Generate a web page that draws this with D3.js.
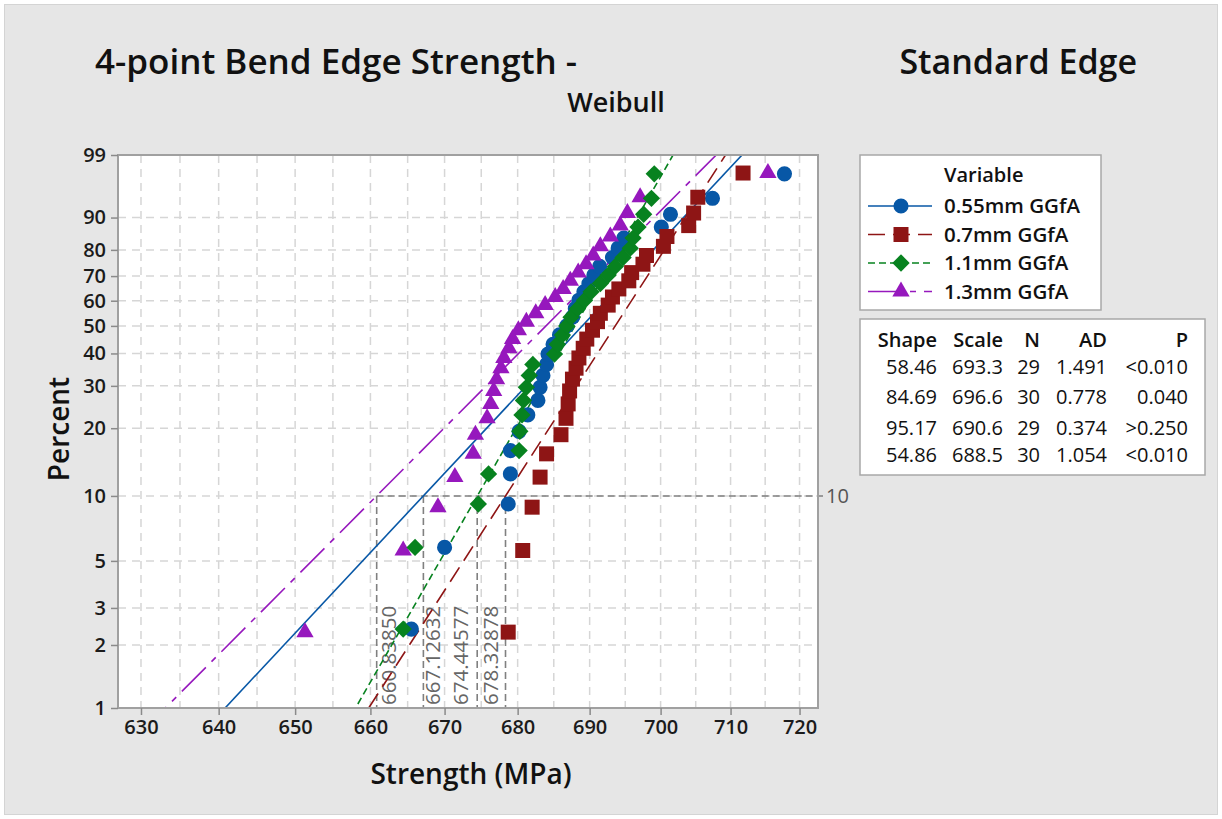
<!DOCTYPE html>
<html>
<head>
<meta charset="UTF-8">
<script src="https://d3js.org/d3.v7.min.js"></script>
<style>
  body { margin: 0; background: #fff; }
  svg text { font-family: "Open Sans", "Noto Sans", sans-serif; }
</style>
</head>
<body>
<div id="chart"></div>
<script>
// ---- data ----
const seriesNames = ['0.55mm GGfA', '0.7mm GGfA', '1.1mm GGfA', '1.3mm GGfA']
const seriesColors = ['#0757a6', '#8e1515', '#07821f', '#9618bd']

// sorted strength values (MPa), one array per series
const strength055 = [665.5, 670.0, 678.7, 679.0, 679.0, 680.2, 681.4, 682.8, 683.1, 683.5,
  684.0, 684.2, 684.9, 685.8, 686.8, 687.6, 688.0, 688.5, 689.2, 689.9,
  690.6, 691.4, 693.2, 694.0, 694.8, 700.1, 701.4, 707.4, 717.8]
const strength07 = [678.7, 680.7, 682.0, 683.1, 684.0, 686.0, 686.7, 687.0, 687.2, 687.6,
  688.1, 688.5, 689.1, 689.6, 690.4, 691.1, 691.5, 692.6, 693.2, 694.1,
  695.5, 695.9, 697.5, 698.0, 700.4, 700.9, 704.0, 704.7, 705.3, 711.8]
const strength11 = [664.4, 666.0, 674.6, 676.0, 680.2, 680.3, 680.6, 680.8, 681.2, 681.6,
  682.1, 685.1, 685.5, 686.2, 686.8, 687.4, 688.3, 689.3, 690.2, 691.5,
  692.6, 693.6, 694.7, 695.7, 696.1, 696.8, 697.6, 698.7, 699.1]
const strength13 = [651.3, 664.4, 669.1, 671.4, 673.9, 674.2, 675.8, 676.3, 676.7, 677.1,
  677.7, 678.1, 678.8, 679.3, 680.1, 681.2, 682.5, 683.8, 685.2, 686.3,
  687.3, 688.4, 689.5, 690.5, 691.5, 692.9, 694.3, 695.3, 697.1, 715.4]
const allStrength = [strength055, strength07, strength11, strength13]

// Weibull fit table
const shapeVals = ['58.46', '84.69', '95.17', '54.86']
const scaleVals = ['693.3', '696.6', '690.6', '688.5']
const nVals = ['29', '30', '29', '30']
const adVals = ['1.491', '0.778', '0.374', '1.054']
const pVals = ['<0.010', '0.040', '>0.250', '<0.010']

// 10th percentile reference lines
const refPercent = 10
const refLabels = ['660.83850', '667.12632', '674.44577', '678.32878']

const xTicks = [630, 640, 650, 660, 670, 680, 690, 700, 710, 720]
const yTicks = [1, 2, 3, 5, 10, 20, 30, 40, 50, 60, 70, 80, 90, 99]

// ---- layout ----
const W = 1222, H = 819
const pLeft = 118, pRight = 818, pTop = 155, pBottom = 708
const dashes = [null, '17,8', '7,4', '34,8,6,8']

const svg = d3.select('#chart').append('svg')
  .attr('width', W).attr('height', H)

svg.append('rect').attr('x', 4.5).attr('y', 4.5).attr('width', W - 9).attr('height', H - 9)
  .attr('fill', '#e6e6e6').attr('stroke', '#d4d4d4')

// weibull probability transform
const wb = p => Math.log(-Math.log(1 - p))
const x = d3.scaleLog().domain([627.07, 722.7]).range([pLeft, pRight])
const yLin = d3.scaleLinear().domain([wb(0.01), wb(0.99)]).range([pBottom, pTop])
const y = pct => yLin(wb(pct / 100))

svg.append('rect').attr('x', pLeft).attr('y', pTop)
  .attr('width', pRight - pLeft).attr('height', pBottom - pTop).attr('fill', '#fff')

// grid
const grid = svg.append('g').attr('stroke', '#d6d6d6').attr('stroke-width', 1.5)
  .attr('stroke-dasharray', '8,6')
grid.selectAll('.gx').data(d3.range(630, 721, 5)).join('line')
  .attr('x1', d => x(d)).attr('x2', d => x(d)).attr('y1', pTop).attr('y2', pBottom)
grid.selectAll('.gy').data(yTicks.slice(1, -1)).join('line')
  .attr('x1', pLeft).attr('x2', pRight).attr('y1', d => y(d)).attr('y2', d => y(d))

// reference lines at 10 %
const refVals = refLabels.map(Number)
const ref = svg.append('g').attr('stroke', '#808080').attr('stroke-width', 1.6)
  .attr('stroke-dasharray', '7,4').attr('fill', 'none')
ref.append('line').attr('x1', x(d3.min(refVals))).attr('x2', pRight + 5)
  .attr('y1', y(refPercent)).attr('y2', y(refPercent))
ref.selectAll('.rv').data(refVals).join('line')
  .attr('x1', d => x(d)).attr('x2', d => x(d)).attr('y1', y(refPercent)).attr('y2', pBottom)

svg.append('text').attr('x', pRight + 8).attr('y', y(refPercent)).attr('dy', '0.36em')
  .attr('font-size', 20).attr('fill', '#555').text(refPercent)

const labOffset = [19, 17, -9, -8]
svg.selectAll('.rl').data(refLabels).join('text')
  .attr('transform', (d, i) => `translate(${x(+d) + labOffset[i]},${pBottom - 3}) rotate(-90)`)
  .attr('font-size', 20.5).attr('fill', '#666').text(d => d)

// fitted lines
svg.append('clipPath').attr('id', 'plotclip').append('rect')
  .attr('x', pLeft).attr('y', pTop).attr('width', pRight - pLeft).attr('height', pBottom - pTop)
const fitLayer = svg.append('g').attr('clip-path', 'url(#plotclip)')
seriesNames.forEach((s, k) => {
  const b = +shapeVals[k], e = +scaleVals[k]
  const pts = [0.005, 0.995].map(p => [x(e * Math.pow(-Math.log(1 - p), 1 / b)), yLin(wb(p))])
  fitLayer.append('path').attr('d', d3.line()(pts))
    .attr('fill', 'none').attr('stroke', seriesColors[k]).attr('stroke-width', 1.6)
    .attr('stroke-dasharray', dashes[k])
})

// markers
const symbolOf = [
  d3.symbol(d3.symbolCircle, 180),
  d3.symbol(d3.symbolSquare, 225),
  d3.symbol(d3.symbolSquare, 150),
  d3.symbol(d3.symbolTriangle, 130)
]
const rotOf = [0, 0, 45, 0]
const drawOrder = [0, 1, 3, 2]
drawOrder.forEach(k => {
  const vals = allStrength[k], n = vals.length
  svg.append('g').selectAll('path').data(vals).join('path')
    .attr('d', symbolOf[k])
    .attr('transform', (d, i) => `translate(${x(d)},${yLin(wb((i + 1 - 0.3) / (n + 0.4)))}) rotate(${rotOf[k]})`)
    .attr('fill', seriesColors[k])
})

// frame + axes
svg.append('rect').attr('x', pLeft).attr('y', pTop)
  .attr('width', pRight - pLeft).attr('height', pBottom - pTop)
  .attr('fill', 'none').attr('stroke', '#a0a0a0').attr('stroke-width', 2)

const xAxis = svg.append('g').attr('transform', `translate(0,${pBottom})`)
  .call(d3.axisBottom(x).tickValues(xTicks).tickFormat(d3.format('d')).tickSize(7).tickPadding(5))
const yAxis = svg.append('g').attr('transform', `translate(${pLeft},0)`)
  .call(d3.axisLeft(yLin).tickValues(yTicks.map(t => wb(t / 100)))
    .tickFormat((d, i) => yTicks[i]).tickSize(7).tickPadding(5))
;[xAxis, yAxis].forEach(a => {
  a.select('.domain').remove()
  a.selectAll('line').attr('stroke', '#8a8a8a').attr('stroke-width', 1.5)
  a.selectAll('text').attr('font-size', 20).attr('font-weight', 600).attr('fill', '#1b1b1b')
    .style('font-family', '"Open Sans", sans-serif')
})

// titles
svg.append('text').attr('x', 95).attr('y', 74).attr('font-size', 35).attr('font-weight', 600)
  .attr('fill', '#111').text('4-point Bend Edge Strength -')
svg.append('text').attr('x', 1137).attr('y', 74).attr('text-anchor', 'end')
  .attr('font-size', 34).attr('font-weight', 600).attr('fill', '#111').text('Standard Edge')
svg.append('text').attr('x', 616).attr('y', 112).attr('text-anchor', 'middle')
  .attr('font-size', 27).attr('font-weight', 600).attr('fill', '#111').text('Weibull')
svg.append('text').attr('transform', 'translate(69,429) rotate(-90)').attr('text-anchor', 'middle')
  .attr('font-size', 28).attr('font-weight', 600).attr('fill', '#111').text('Percent')
svg.append('text').attr('x', 471).attr('y', 784).attr('text-anchor', 'middle')
  .attr('font-size', 28).attr('font-weight', 600).attr('fill', '#111').text('Strength (MPa)')

// legend
const leg = svg.append('g')
leg.append('rect').attr('x', 860).attr('y', 155).attr('width', 241).attr('height', 155)
  .attr('fill', '#fff').attr('stroke', '#a8a8a8').attr('stroke-width', 1.5)
leg.append('text').attr('x', 944).attr('y', 182).attr('font-size', 20).attr('font-weight', 600)
  .attr('fill', '#111').text('Variable')
seriesNames.forEach((s, k) => {
  const cy = 206 + k * 28.5
  leg.append('line').attr('x1', 868).attr('x2', 932).attr('y1', cy).attr('y2', cy)
    .attr('stroke', seriesColors[k]).attr('stroke-width', 1.6).attr('stroke-dasharray', dashes[k])
  leg.append('path').attr('d', symbolOf[k])
    .attr('transform', `translate(901,${cy}) rotate(${rotOf[k]})`).attr('fill', seriesColors[k])
  leg.append('text').attr('x', 944).attr('y', cy).attr('dy', '0.36em').attr('font-size', 20.5)
    .attr('font-weight', 600).attr('fill', '#111').text(s)
})

// stats table
const tab = svg.append('g')
tab.append('rect').attr('x', 860).attr('y', 319).attr('width', 345).attr('height', 156)
  .attr('fill', '#fff').attr('stroke', '#a8a8a8').attr('stroke-width', 1.5)
const colRight = [937, 1003, 1040, 1107, 1188]
const headers = ['Shape', 'Scale', 'N', 'AD', 'P']
const rowY = [340, 367, 397, 428, 455]
headers.forEach((h, c) => tab.append('text').attr('x', colRight[c]).attr('y', rowY[0]).attr('dy', '0.36em')
  .attr('text-anchor', 'end').attr('font-size', 20).attr('font-weight', 600).attr('fill', '#111').text(h))
seriesNames.forEach((s, k) => {
  const row = [shapeVals[k], scaleVals[k], nVals[k], adVals[k], pVals[k]]
  row.forEach((v, c) => tab.append('text').attr('x', colRight[c]).attr('y', rowY[k + 1]).attr('dy', '0.36em')
    .attr('text-anchor', 'end').attr('font-size', 20).attr('font-weight', 500).attr('fill', '#111').text(v))
})
</script>
</body>
</html>
